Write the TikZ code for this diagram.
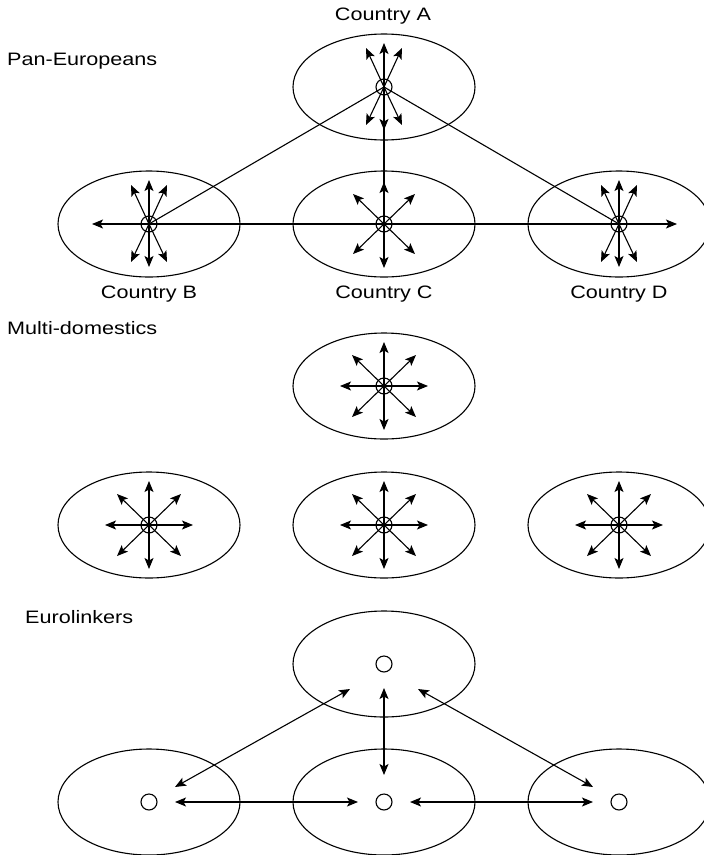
\documentclass[tikz,border=0pt]{standalone}
\usepackage{fontspec}
\setmainfont{Liberation Sans}[FakeStretch=1.2]
\usetikzlibrary{shapes.geometric,arrows.meta,calc}
\tikzset{
  country/.style={draw, ellipse, minimum width=182pt, minimum height=106pt, inner sep=0pt, line width=1.1pt},
  hub/.style={draw, circle, minimum size=16pt, inner sep=0pt, line width=1.1pt},
  lbl/.style={font=\fontsize{18}{21}\selectfont, inner sep=0pt},
  arr/.style={-{Stealth[length=11pt,width=9pt,inset=2.5pt]}, line width=1.1pt},
  darr/.style={{Stealth[length=11pt,width=9pt,inset=2.5pt]}-{Stealth[length=11pt,width=9pt,inset=2.5pt]}, line width=1.1pt},
  ln/.style={line width=1.1pt}
}
\begin{document}
\begin{tikzpicture}[x=1pt,y=-1pt]
\useasboundingbox (0,0) rectangle (704,855);
% ---------- Pan-Europeans ----------
\node[lbl, anchor=west] (tPan) at (7,61) {Pan-Europeans};
\node[country] (pA) at (384,87) {};
\node[country] (pB) at (149,224) {};
\node[country] (pC) at (384,224) {};
\node[country] (pD) at (619,224) {};
\node[hub] (hA) at (pA.center) {};
\node[hub] (hB) at (pB.center) {};
\node[hub] (hC) at (pC.center) {};
\node[hub] (hD) at (pD.center) {};
\node[lbl] (lA) at (383,16) {Country A};
\node[lbl] (lB) at (149,294) {Country B};
\node[lbl] (lC) at (384,294) {Country C};
\node[lbl] (lD) at (619,294) {Country D};
% links
\draw[ln] (hA.center) -- (hB.center);
\draw[ln] (hA.center) -- (hD.center);
\draw[ln] (hA.center) -- (hC.center);
\coordinate (bL) at ($(hB.center)+(-57,0)$);
\coordinate (dR) at ($(hD.center)+(58,0)$);
\draw[arr] (hB.center) -- (bL);
\draw[arr] (hD.center) -- (dR);
\draw[ln] (hB.center) -- (hD.center);
% fan arrows for A, B, D
\foreach \h in {hA,hB,hD}{
  \foreach \dx/\dy in {0/-44, -18/-39, 18/-39, 0/43, -18/38, 18/38}{
    \draw[arr] (\h.center) -- ++(\dx,\dy);
  }
}
% C
\foreach \dx/\dy in {0/-42, 0/44, -31/-30, 31/-30, -31/30, 31/30}{
  \draw[arr] (hC.center) -- ++(\dx,\dy);
}
% ---------- Multi-domestics ----------
\node[lbl, anchor=west] (tMulti) at (7,328) {Multi-domestics};
\node[country] (mA) at (384,386) {};
\node[country] (mB) at (149,525) {};
\node[country] (mC) at (384,525) {};
\node[country] (mD) at (619,525) {};
\foreach \m in {mA,mB,mC,mD}{
  \node[hub] (h\m) at (\m.center) {};
  \foreach \dx/\dy in {0/-44, 0/44, -44/0, 44/0, -32/-31, 32/-31, -32/31, 32/31}{
    \draw[arr] (\m.center) -- ++(\dx,\dy);
  }
}
% ---------- Eurolinkers ----------
\node[lbl, anchor=west] (tEuro) at (25,617) {Eurolinkers};
\node[country] (eA) at (384,664) {};
\node[country] (eB) at (149,802) {};
\node[country] (eC) at (384,802) {};
\node[country] (eD) at (619,802) {};
\node[hub] (gA) at (eA.center) {};
\node[hub] (gB) at (eB.center) {};
\node[hub] (gC) at (eC.center) {};
\node[hub] (gD) at (eD.center) {};
\draw[darr] ($(gB.center)+(26,-15)$) -- ($(gA.center)+(-34,25)$);
\draw[darr] ($(gA.center)+(0,24)$) -- ($(gC.center)+(0,-27)$);
\draw[darr] ($(gA.center)+(34,25)$) -- ($(gD.center)+(-26,-15)$);
\draw[darr] ($(gB.center)+(26,0)$) -- ($(gC.center)+(-26,0)$);
\draw[darr] ($(gC.center)+(26,0)$) -- ($(gD.center)+(-26,0)$);
\end{tikzpicture}
\end{document}
